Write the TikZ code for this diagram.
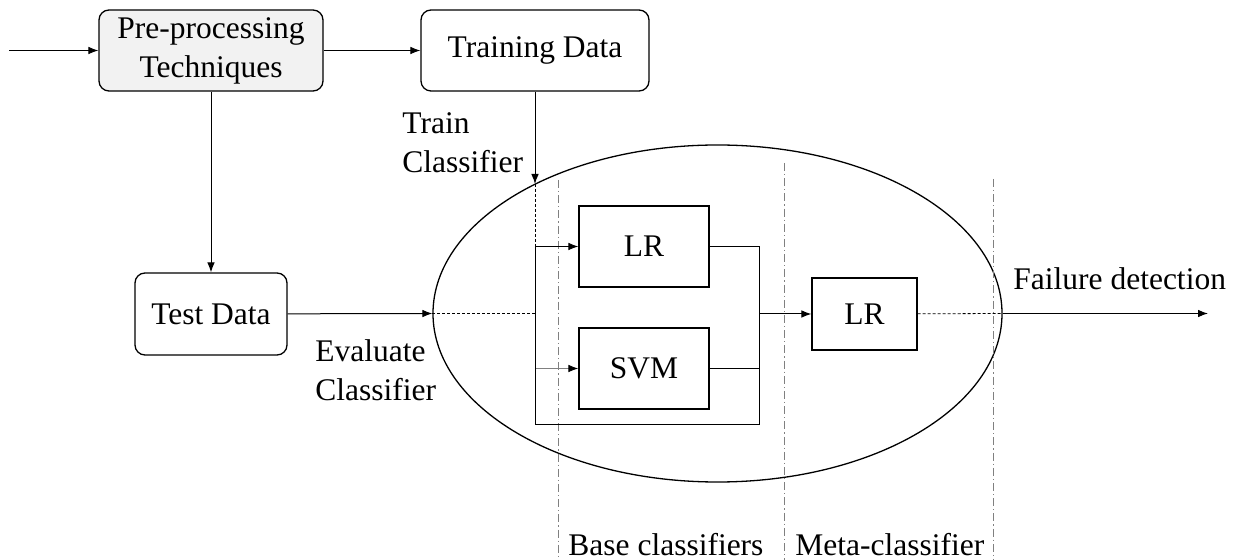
\documentclass[tikz,border=0pt]{standalone}
\usepackage{fontspec}
\setmainfont{Liberation Serif}
\usetikzlibrary{arrows.meta,shapes.geometric}

\begin{document}
\begin{tikzpicture}[x=0.5pt,y=-0.5pt,
	font=\fontsize{15.75pt}{19.5pt}\selectfont,
	>={Latex[length=5pt,width=3.8pt,color=black]},
	stage/.style={draw,rounded corners=5pt,line width=0.65pt,minimum height=40.5pt,align=center,inner sep=0pt},
	clf/.style={draw,line width=0.65pt,minimum width=65pt,minimum height=40.5pt,inner sep=0pt},
	link/.style={line width=0.5pt},
	fine/.style={line width=0.4pt,dash pattern=on 1.5pt off 1pt},
	sep/.style={gray,line width=0.4pt,dash pattern=on 4pt off 1.5pt on 0.6pt off 1.5pt},
	lbl/.style={inner sep=0pt,align=left}]
	\useasboundingbox (0,0) rectangle (1246,560);
	% stages
	\node[stage,fill=gray!10,minimum width=112pt] (prep) at (211,50.5) {Pre-processing\\Techniques};
	\node[stage,minimum width=114pt] (train) at (535,50.5) {Training Data};
	\node[stage,minimum width=76pt,minimum height=41pt] (test) at (211,314) {Test Data};
	% ensemble
	\node[ellipse,draw,line width=0.65pt,minimum width=284.5pt,minimum height=168.5pt,inner sep=0pt] (ens) at (717.5,313.5) {};
	\node[clf] (lr) at (644,246.5) {LR};
	\node[clf] (svm) at (644,368.5) {SVM};
	\node[clf,minimum width=52.5pt,minimum height=36pt] (meta) at (864.5,314) {LR};
	% separators
	\draw[sep] (558,180) -- (558,560);
	\draw[sep] (784,163) -- (784,560);
	\draw[sep] (993,179) -- (993,560);
	% inputs
	\coordinate (in) at (9,50.5);
	\coordinate (tin) at (535,184);
	\coordinate (bl) at (535,425);
	\coordinate (br) at (759,425);
	\coordinate (out) at (1208,313.5);
	\draw[link,->] (in) -- (prep);
	\draw[link,->] (prep) -- (train);
	\draw[link,->] (prep) -- (test);
	\draw[link,->] (train) -- (tin);
	\draw[link,->] (test) -- (ens.west);
	\draw[fine] (ens.west) -- (ens.west -| bl);
	\draw[fine] (tin) -- (bl |- lr);
	% base classifiers
	\draw[link,->] (bl |- lr) -- (lr);
	\draw[link,->,gray] (bl |- svm) -- (svm);
	\draw[link] (lr.east) -| (br) -- (bl) -- (bl |- lr);
	\draw[link] (svm.east) -- (svm.east -| br);
	% meta classifier
	\draw[link,->] (br |- meta) -- (meta);
	\draw[fine] (meta) -- (ens.east);
	\draw[link,->] (ens.east) -- (out);
	% labels
	\node[lbl,anchor=north west] (trainlbl) at (402,112) {Train\\Classifier};
	\node[lbl,anchor=north west] (evallbl) at (315,339) {Evaluate\\Classifier};
	\node[lbl,anchor=base west] (outlbl) at (1013,290) {Failure detection};
	\node[lbl,anchor=base west] (baselbl) at (568,555) {Base classifiers};
	\node[lbl,anchor=base west] (metalbl) at (795,555) {Meta-classifier};
\end{tikzpicture}
\end{document}
